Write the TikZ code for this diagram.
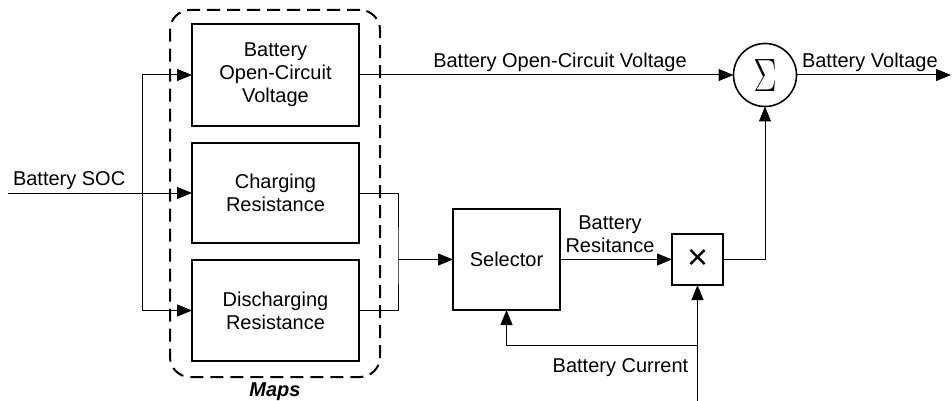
\documentclass[tikz,border=0pt]{standalone}
\usepackage{fontspec}
\usepackage{graphicx}
\setmainfont{Liberation Sans}
\usetikzlibrary{arrows.meta}
\begin{document}
\begin{tikzpicture}[x=1pt,y=-1pt,
  every node/.style={font=\fontsize{20}{23}\selectfont, inner sep=0pt, outer sep=0pt},
  blk/.style={draw, line width=2pt, align=center},
  conn/.style={line width=1pt},
  arr/.style={conn, -{Triangle[length=15pt,width=12pt]}},
  mapsbox/.style={draw, line width=2pt, dash pattern=on 13pt off 7pt, rounded corners=20pt}]
\useasboundingbox (0,0) rectangle (952,401);

% dashed group
\node[mapsbox, minimum width=210pt, minimum height=367pt] (maps) at (275,193.5) {};

% blocks
\node[blk, minimum width=167pt, minimum height=101pt] (ocv) at (275.5,75) {Battery\\Open-Circuit\\Voltage};
\node[blk, minimum width=167pt, minimum height=100pt] (chg) at (275.5,193) {Charging\\Resistance};
\node[blk, minimum width=167pt, minimum height=101pt] (dis) at (275.5,310.5) {Discharging\\Resistance};
\node[blk, minimum width=107pt, minimum height=101pt] (sel) at (506.5,259.5) {Selector};
\node[blk, minimum width=51pt, minimum height=51pt] (mul) at (697.5,259.5) {\raisebox{-2pt}{\fontsize{36}{36}\selectfont ×}};
\node[draw, circle, line width=1.6pt, minimum size=63pt] (sum) at (765,75) {\raisebox{-2.5pt}{\resizebox{23pt}{32pt}{$\Sigma$}}};

% labels
\node[anchor=base west] (lsoc) at (13,185) {Battery SOC};
\node[anchor=base] (locv) at (560,68) {Battery Open-Circuit Voltage};
\node[anchor=base west] (lbv) at (802,68) {Battery Voltage};
\node[align=center] (lres) at (610,234) {Battery\\Resitance};
\node[anchor=base] (lcur) at (620.5,372) {Battery Current};
\node[anchor=base, font=\fontsize{20}{23}\selectfont\bfseries\itshape] (lmaps) at (275,396) {Maps};

% coordinates
\coordinate (socin) at (8,193);
\coordinate (split) at (142,193);
\coordinate (j) at (398,259.5);
\coordinate (vout) at (951,75);
\coordinate (cin) at (697.5,401);
\coordinate (cb) at (697.5,345);

% connectors
\draw[arr] (socin) -- (chg.west);
\draw[arr] (split) |- (ocv.west);
\draw[arr] (split) |- (dis.west);
\draw[arr] (ocv.east) -- (sum.west);
\draw[arr] (sum.east) -- (vout);
\draw[conn] (chg.east) -| (j) |- (dis.east);
\draw[arr] (j) -- (sel.west);
\draw[arr] (sel.east) -- (mul.west);
\draw[arr] (mul.east) -| (sum.south);
\draw[arr] (cin) -- (mul.south);
\draw[arr] (cb) -| (sel.south);
\end{tikzpicture}
\end{document}
